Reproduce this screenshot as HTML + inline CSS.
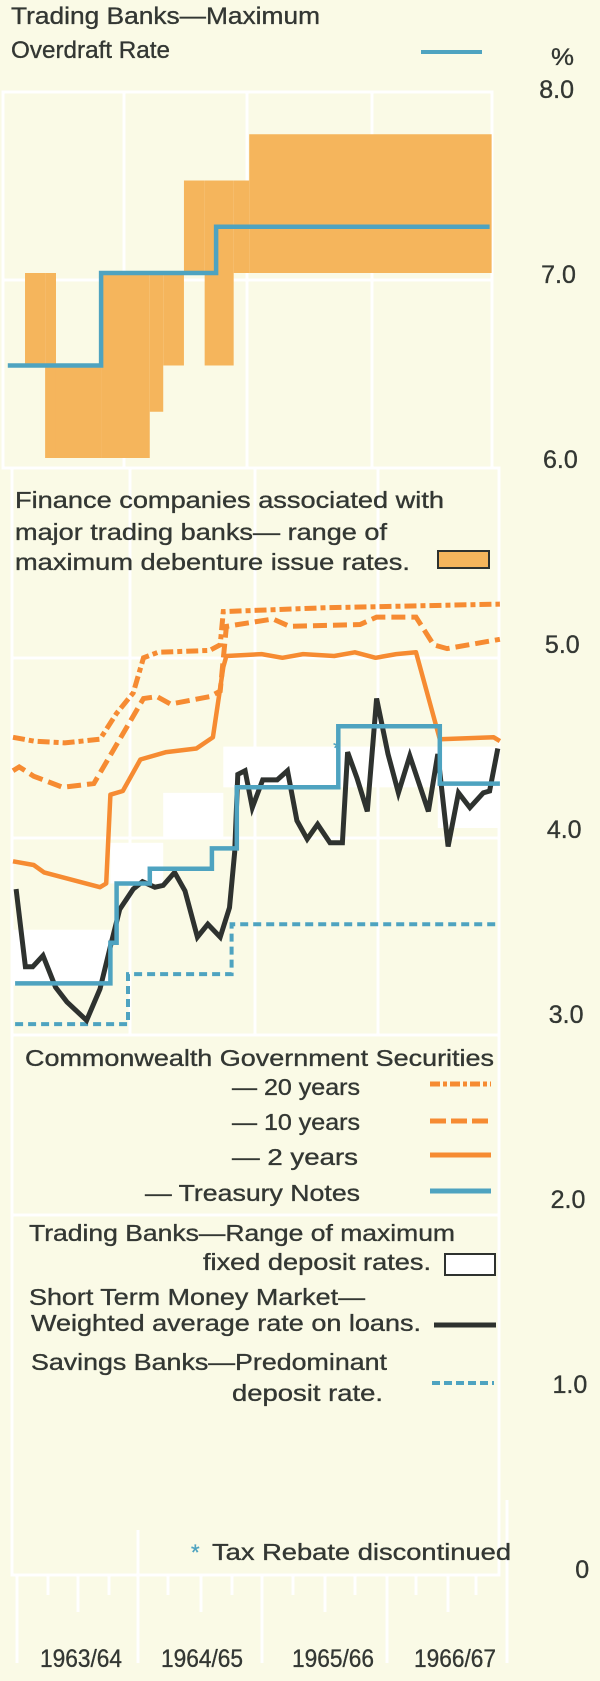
<!DOCTYPE html>
<html><head><meta charset="utf-8"><style>
html,body{margin:0;padding:0;background:#fafae6;}
svg{display:block;}
text{font-family:"Liberation Sans",Arial,sans-serif;fill:#333733;stroke:#333733;stroke-width:0.35px;}
</style></head><body>
<svg id="chart" width="600" height="1681" viewBox="0 0 600 1681" xmlns="http://www.w3.org/2000/svg">
<rect x="0" y="0" width="600" height="1681" fill="#fafae6"/>
<g id="grid" stroke="#ffffff" stroke-width="3" fill="none">
  <rect x="3" y="92" width="489" height="376"/>
  <line x1="3" y1="280" x2="492" y2="280"/>
  <line x1="124" y1="92" x2="124" y2="468"/>
  <line x1="247" y1="92" x2="247" y2="468"/>
  <line x1="372" y1="92" x2="372" y2="468"/>
  <rect x="12" y="468" width="487" height="1107"/>
  <line x1="12" y1="658" x2="499" y2="658"/>
  <line x1="12" y1="838" x2="499" y2="838"/>
  <line x1="12" y1="1035" x2="499" y2="1035"/>
  <line x1="12" y1="1215" x2="499" y2="1215"/>
  <line x1="130" y1="468" x2="130" y2="1035"/>
  <line x1="255" y1="468" x2="255" y2="1035"/>
  <line x1="378" y1="468" x2="378" y2="1035"/>
  <line x1="138" y1="1530" x2="138" y2="1663"/>
  <line x1="262" y1="1575" x2="262" y2="1663"/>
  <line x1="387" y1="1575" x2="387" y2="1663"/>
  <line x1="507" y1="1500" x2="507" y2="1663"/>
  <line x1="17" y1="1575" x2="17" y2="1663"/>
  <line x1="48" y1="1575" x2="48" y2="1595"/>
  <line x1="78" y1="1575" x2="78" y2="1612"/>
  <line x1="109" y1="1575" x2="109" y2="1595"/>
  <line x1="168" y1="1575" x2="168" y2="1595"/>
  <line x1="201" y1="1575" x2="201" y2="1612"/>
  <line x1="232" y1="1575" x2="232" y2="1595"/>
  <line x1="293" y1="1575" x2="293" y2="1595"/>
  <line x1="325" y1="1575" x2="325" y2="1612"/>
  <line x1="355" y1="1575" x2="355" y2="1595"/>
  <line x1="416" y1="1575" x2="416" y2="1595"/>
  <line x1="448" y1="1575" x2="448" y2="1612"/>
  <line x1="476" y1="1575" x2="476" y2="1595"/>
</g>
<g id="deposit-ranges"></g>
<g id="debentures"></g>
<g id="lines"></g>

<text x="11" y="24" font-size="24" textLength="309" lengthAdjust="spacingAndGlyphs">Trading Banks—Maximum</text>
<text x="11" y="58" font-size="24" textLength="159" lengthAdjust="spacingAndGlyphs">Overdraft Rate</text>
<line x1="421" y1="52" x2="482" y2="52" stroke="#4ea3c0" stroke-width="4"/>
<text x="551" y="65" font-size="24" textLength="23" lengthAdjust="spacingAndGlyphs">%</text>

<text x="15" y="508" font-size="23" textLength="429" lengthAdjust="spacingAndGlyphs">Finance companies associated with</text>
<text x="15" y="540" font-size="23" textLength="372" lengthAdjust="spacingAndGlyphs">major trading banks— range of</text>
<text x="15" y="570" font-size="23" textLength="395" lengthAdjust="spacingAndGlyphs">maximum debenture issue rates.</text>
<rect x="438" y="551" width="51" height="17" fill="#f5b55c" stroke="#2e322f" stroke-width="2"/>

<text x="25" y="1066" font-size="23" textLength="469" lengthAdjust="spacingAndGlyphs">Commonwealth Government Securities</text>
<text x="232" y="1095" font-size="23" textLength="128" lengthAdjust="spacingAndGlyphs">— 20 years</text>
<text x="232" y="1130" font-size="23" textLength="128" lengthAdjust="spacingAndGlyphs">— 10 years</text>
<text x="232" y="1165" font-size="23" textLength="126" lengthAdjust="spacingAndGlyphs">—  2 years</text>
<text x="145" y="1201" font-size="23" textLength="215" lengthAdjust="spacingAndGlyphs">— Treasury Notes</text>
<line x1="430" y1="1084" x2="491" y2="1084" stroke="#f68b32" stroke-width="5" stroke-dasharray="10,3,4,3"/>
<line x1="430" y1="1121" x2="491" y2="1121" stroke="#f68b32" stroke-width="5" stroke-dasharray="16,5"/>
<line x1="430" y1="1155" x2="491" y2="1155" stroke="#f68b32" stroke-width="5"/>
<line x1="430" y1="1191" x2="491" y2="1191" stroke="#4ea3c0" stroke-width="5"/>

<text x="29" y="1241" font-size="23" textLength="426" lengthAdjust="spacingAndGlyphs">Trading Banks—Range of maximum</text>
<text x="203" y="1270" font-size="23" textLength="228" lengthAdjust="spacingAndGlyphs">fixed deposit rates.</text>
<rect x="445" y="1254" width="50" height="21" fill="#ffffff" stroke="#2e322f" stroke-width="2"/>
<text x="29" y="1305" font-size="23" textLength="336" lengthAdjust="spacingAndGlyphs">Short Term Money Market—</text>
<text x="31" y="1331" font-size="23" textLength="390" lengthAdjust="spacingAndGlyphs">Weighted average rate on loans.</text>
<line x1="434" y1="1325" x2="496" y2="1325" stroke="#2e322f" stroke-width="5"/>
<text x="31" y="1370" font-size="23" textLength="356" lengthAdjust="spacingAndGlyphs">Savings Banks—Predominant</text>
<text x="232" y="1401" font-size="23" textLength="151" lengthAdjust="spacingAndGlyphs">deposit rate.</text>
<line x1="432" y1="1383" x2="494" y2="1383" stroke="#4ea3c0" stroke-width="4" stroke-dasharray="8,4"/>

<text x="191" y="1560" font-size="22" style="fill:#4ea3c0;stroke:#4ea3c0">*</text>
<text x="212" y="1560" font-size="23" textLength="299" lengthAdjust="spacingAndGlyphs">Tax Rebate discontinued</text>

<g id="yticks"></g>
<g id="xticks"></g>
</svg>
<script>
const yTickValues = [8, 7, 6, 5, 4, 3, 2, 1, 0];
const yTickLabels = ["8.0", "7.0", "6.0", "5.0", "4.0", "3.0", "2.0", "1.0", "0"];
const yearLabels = ["1963/64", "1964/65", "1965/66", "1966/67"];

const odStarts = [-0.5, 8.5, 19.6];
const odValues = [6.5, 7.0, 7.25];
const odEnd = 46.0;

const debStart = [1.16, 3.1, 4.15, 8.5, 13.2, 14.5, 16.5, 18.5, 21.3, 22.8];
const debEnd   = [3.1, 4.15, 8.5, 13.2, 14.5, 16.5, 18.5, 21.3, 22.8, 46.2];
const debLow   = [6.5, 6.0, 6.0, 6.0, 6.25, 6.5, 7.0, 6.5, 7.0, 7.0];
const debHigh  = [7.0, 7.0, 6.5, 7.0, 7.0, 7.0, 7.5, 7.5, 7.5, 7.75];

const fdStart = [0.0, 9.4, 14.5, 20.3, 30.9, 41.0];
const fdEnd   = [9.4, 14.5, 20.3, 30.9, 41.0, 47.0];
const fdLow   = [3.15, 3.70, 3.94, 4.22, 4.22, 4.00];
const fdHigh  = [3.45, 3.92, 4.19, 4.44, 4.44, 4.44];

const y20Months = [0, 2, 5, 8.4, 10, 11.6, 12.6, 14, 19, 20, 20.3, 30, 47];
const y20Values = [4.49, 4.47, 4.46, 4.48, 4.62, 4.73, 4.92, 4.95, 4.96, 4.99, 5.17, 5.19, 5.21];
const y10Months = [0, 0.6, 2, 4.8, 7.8, 12.6, 13.9, 15.2, 19, 20, 20.6, 25.1, 26.7, 33.5, 35.1, 38.9, 40.6, 41.9, 47];
const y10Values = [4.31, 4.33, 4.28, 4.22, 4.24, 4.70, 4.71, 4.67, 4.71, 4.74, 5.09, 5.13, 5.09, 5.10, 5.14, 5.14, 4.99, 4.97, 5.02];
const y2Months = [0, 2, 3, 8.4, 9, 9.4, 10.6, 12.3, 14.8, 17.7, 19.3, 20.3, 20.6, 24, 26, 28, 31, 33, 35, 37, 38.9, 41.2, 46.4, 47];
const y2Values = [3.82, 3.80, 3.76, 3.68, 3.70, 4.18, 4.20, 4.37, 4.41, 4.43, 4.49, 4.87, 4.93, 4.94, 4.92, 4.94, 4.93, 4.95, 4.92, 4.94, 4.95, 4.48, 4.49, 4.47];

const tnStarts = [0.2, 9.4, 10.0, 13.2, 19.2, 21.6, 31.4, 41.2];
const tnValues = [3.16, 3.38, 3.70, 3.78, 3.89, 4.22, 4.55, 4.24];
const tnEnd = 47.0;

const sbStarts = [0.2, 11.1, 21.1];
const sbValues = [2.94, 3.21, 3.48];
const sbEnd = 47.0;

const mmMonths = [0.3,1.2,1.9,2.9,4.1,5.2,7.1,8.4,9.4,10.3,11.6,12.5,13.7,14.5,15.6,16.6,17.8,18.8,20.0,20.9,21.4,21.7,22.4,23.1,24.1,25.5,26.5,27.4,28.4,29.4,30.6,31.8,32.3,33.2,34.2,35.1,36.2,37.2,38.3,40.1,41.0,42.0,43.0,44.1,45.4,46.0,46.8];
const mmValues = [3.67,3.25,3.25,3.31,3.14,3.06,2.96,3.13,3.36,3.56,3.67,3.71,3.68,3.69,3.76,3.66,3.41,3.48,3.41,3.57,3.87,4.29,4.31,4.11,4.26,4.26,4.31,4.04,3.94,4.02,3.92,3.92,4.41,4.27,4.09,4.70,4.40,4.19,4.39,4.09,4.40,3.90,4.19,4.11,4.19,4.20,4.43];

const taxRebateMonth = 31.4;
const taxRebateValue = 4.44;

function xs(m) { return 13 + m * 10.36; }
function ys(v) { return 1568 - v * 185; }

const NS = "http://www.w3.org/2000/svg";
function mk(tag, attrs, parent) {
  const el = document.createElementNS(NS, tag);
  for (const k in attrs) el.setAttribute(k, attrs[k]);
  parent.appendChild(el);
  return el;
}

const gFd = document.getElementById('deposit-ranges');
for (let i = 0; i < fdStart.length; i++) {
  const r = mk('rect', {x: xs(fdStart[i]), y: ys(fdHigh[i]), width: xs(fdEnd[i]) - xs(fdStart[i]), height: ys(fdLow[i]) - ys(fdHigh[i]), fill: '#ffffff'}, gFd);
  
  
}
const gDeb = document.getElementById('debentures');
for (let i = 0; i < debStart.length; i++) {
  const r = mk('rect', {x: xs(debStart[i]), y: ys(debHigh[i]), width: xs(debEnd[i]) - xs(debStart[i]), height: ys(debLow[i]) - ys(debHigh[i]), fill: '#f5b55c'}, gDeb);
  
  
}

const gL = document.getElementById('lines');
function polyPts(ms, vs) { return ms.map((m, i) => xs(m).toFixed(1) + ',' + ys(vs[i]).toFixed(1)).join(' '); }
function stepPts(starts, vals, end) {
  const pts = [];
  for (let i = 0; i < starts.length; i++) {
    const x0 = xs(starts[i]);
    const x1 = xs(i + 1 < starts.length ? starts[i + 1] : end);
    pts.push(x0.toFixed(1) + ',' + ys(vals[i]).toFixed(1));
    pts.push(x1.toFixed(1) + ',' + ys(vals[i]).toFixed(1));
  }
  return pts.join(' ');
}

let el;
el = mk('polyline', {points: stepPts(odStarts, odValues, odEnd), fill: 'none', stroke: '#4ea3c0', 'stroke-width': 4.5}, gL);



el = mk('polyline', {points: stepPts(sbStarts, sbValues, sbEnd), fill: 'none', stroke: '#4ea3c0', 'stroke-width': 4, 'stroke-dasharray': '8,5'}, gL);



el = mk('polyline', {points: polyPts(y20Months, y20Values), fill: 'none', stroke: '#f68b32', 'stroke-width': 5, 'stroke-dasharray': '12,4,5,4'}, gL);



el = mk('polyline', {points: polyPts(y10Months, y10Values), fill: 'none', stroke: '#f68b32', 'stroke-width': 5, 'stroke-dasharray': '14,6'}, gL);



el = mk('polyline', {points: polyPts(y2Months, y2Values), fill: 'none', stroke: '#f68b32', 'stroke-width': 4.5, 'stroke-linejoin': 'round'}, gL);



el = mk('polyline', {points: polyPts(mmMonths, mmValues), fill: 'none', stroke: '#2e322f', 'stroke-width': 5, 'stroke-linejoin': 'miter'}, gL);



el = mk('polyline', {points: stepPts(tnStarts, tnValues, tnEnd), fill: 'none', stroke: '#4ea3c0', 'stroke-width': 4.5}, gL);



el = mk('text', {x: xs(taxRebateMonth) - 5, y: ys(taxRebateValue) + 8, 'font-size': 18, style: 'fill:#4ea3c0;stroke:#4ea3c0'}, gL);
el.textContent = '*';



const gY = document.getElementById('yticks');
for (let i = 0; i < yTickValues.length; i++) {
  const v = yTickValues[i];
  const right = 574 + (8 - v) * 1.9;
  const t = mk('text', {x: right, y: ys(v) + 10, 'font-size': 25, 'text-anchor': 'end'}, gY);
  t.textContent = yTickLabels[i];
  
  
}
const gX = document.getElementById('xticks');
for (let i = 0; i < yearLabels.length; i++) {
  const cx = [81, 202, 333, 455][i];
  const t = mk('text', {x: cx - 41, y: 1667, 'font-size': 25, textLength: 82, lengthAdjust: 'spacingAndGlyphs'}, gX);
  t.textContent = yearLabels[i];
  
  
}
</script>
</body></html>
